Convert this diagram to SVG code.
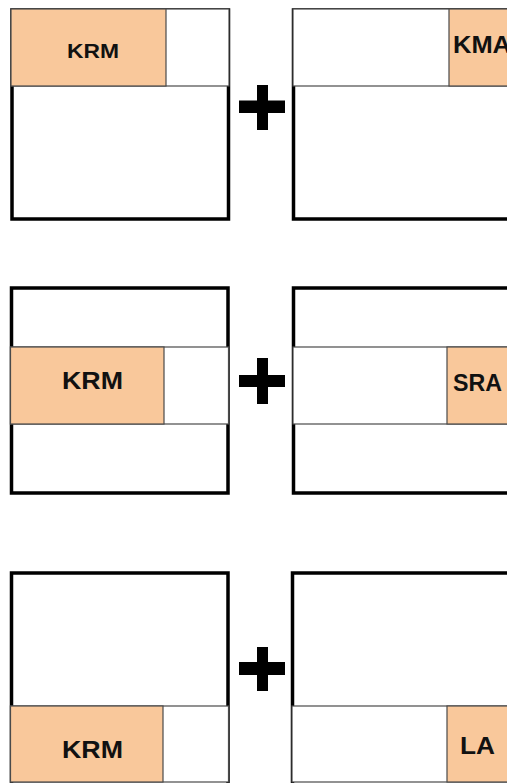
<svg xmlns="http://www.w3.org/2000/svg" width="507" height="783" viewBox="0 0 507 783">
<style>
.frame{fill:#fff;stroke:#000;stroke-width:3.5}
.strip{fill:#fff;stroke:#4a4a4a;stroke-width:1.2}
.hl{fill:#f9c89b;stroke:#4a4a4a;stroke-width:1.2}
.lbl{font-family:"Liberation Sans",Arial,sans-serif;font-weight:bold;fill:#111}
.plus{fill:#000}
</style>
<rect width="507" height="783" fill="#fff"/>
<g id="panel-1">
<rect class="frame" x="12" y="10" width="216.5" height="209"/>
<rect class="strip" x="11" y="9" width="218" height="77"/>
<rect class="hl" x="11" y="9" width="155" height="77"/>
<text class="lbl" x="67" y="57.5" font-size="21" textLength="52" lengthAdjust="spacingAndGlyphs">KRM</text>
</g>
<g id="panel-2">
<rect class="frame" x="293.5" y="10" width="230" height="209"/>
<rect class="strip" x="293" y="9" width="230" height="77"/>
<rect class="hl" x="449" y="9" width="80" height="77"/>
<text class="lbl" x="453" y="52.5" font-size="23" textLength="58" lengthAdjust="spacingAndGlyphs">KMA</text>
</g>
<g id="panel-3">
<rect class="frame" x="11.5" y="288" width="216.5" height="205"/>
<rect class="strip" x="10.5" y="347" width="218" height="77"/>
<rect class="hl" x="10.5" y="347" width="153.5" height="77"/>
<text class="lbl" x="62" y="389" font-size="23" textLength="61" lengthAdjust="spacingAndGlyphs">KRM</text>
</g>
<g id="panel-4">
<rect class="frame" x="293.5" y="288" width="230" height="205"/>
<rect class="strip" x="293" y="347" width="230" height="77"/>
<rect class="hl" x="447" y="347" width="80" height="77"/>
<text class="lbl" x="453" y="390.5" font-size="23" textLength="49" lengthAdjust="spacingAndGlyphs">SRA</text>
</g>
<g id="panel-5">
<rect class="frame" x="11.5" y="573" width="216.5" height="220"/>
<rect class="strip" x="10.5" y="706" width="218" height="76"/>
<rect class="hl" x="10.5" y="706" width="152.5" height="76"/>
<text class="lbl" x="62" y="757.5" font-size="23" textLength="61" lengthAdjust="spacingAndGlyphs">KRM</text>
</g>
<g id="panel-6">
<rect class="frame" x="292.5" y="573" width="230" height="220"/>
<rect class="strip" x="292" y="706" width="230" height="76"/>
<rect class="hl" x="447" y="706" width="80" height="76"/>
<text class="lbl" x="460" y="753.5" font-size="23" textLength="35" lengthAdjust="spacingAndGlyphs">LA</text>
</g>
<g id="operators">
<path class="plus" d="M239 100.5h18v-15.5h11v15.5h17v12.5h-17v17h-11v-17h-18z"/>
<path class="plus" d="M239 375h18v-17h11v17h17v12h-17v17h-11v-17h-18z"/>
<path class="plus" d="M239 662h18v-15h11v15h17v13h-17v16h-11v-16h-18z"/>
</g>
</svg>
